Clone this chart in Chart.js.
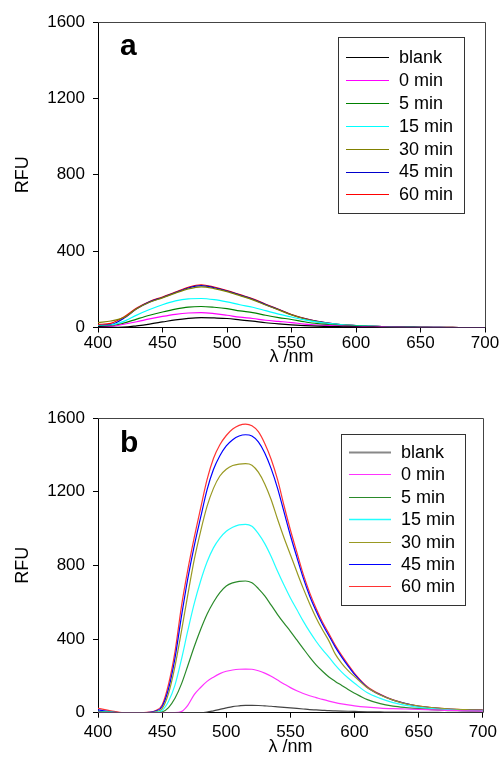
<!DOCTYPE html>
<html>
<head>
<meta charset="utf-8">
<script src="https://cdn.jsdelivr.net/npm/chart.js@4.4.1/dist/chart.umd.min.js"></script>
<style>
  html, body { margin: 0; padding: 0; background: #fff; }
  #wrap { position: relative; width: 501px; height: 768px; }
  canvas { position: absolute; left: 0; }
  #ca { top: 0; }
  #cb { top: 384px; }
</style>
</head>
<body>
<div id="wrap">
  <canvas id="ca" width="501" height="384"></canvas>
  <canvas id="cb" width="501" height="384"></canvas>
</div>
<script>
// ---------- DATA ----------
const seriesLabels = ["blank", "0 min", "5 min", "15 min", "30 min", "45 min", "60 min"];
const xTicks = [400, 450, 500, 550, 600, 650, 700];
const yTicks = [0, 400, 800, 1200, 1600];

// Panel a (wavelength, nm)
const wavelengthsA = [400,410,420,430,440,450,460,470,480,490,500,510,520,530,540,550,560,570,580,590,600,610,620,630,640,650,660,670,680,690,700];
const blankA  = [5,1,2,9,18,29,40,48,52,50,47,40,33,25,19,14,10,7,5,4,3,2,1,1,1,0,0,0,0,0,0];
const min0A   = [5,6,17,30,45,58,69,76,78,73,64,54,47,38,32,26,18,13,10,7,5,4,3,2,1,1,1,0,0,0,0];
const min5A   = [6,8,23,44,64,81,96,107,110,106,99,87,78,64,52,42,30,20,14,10,7,5,3,2,1,1,1,0,0,0,0];
const min15A  = [8,12,32,65,94,119,139,150,152,146,134,119,106,88,70,55,40,28,20,14,10,7,5,3,2,1,1,0,0,0,0];
const min30A  = [26,34,52,98,132,155,180,202,213,204,188,167,145,118,92,66,46,31,21,14,10,7,5,3,2,2,1,1,0,0,0];
const min45A  = [10,15,48,98,134,157,183,207,219,208,191,170,148,120,94,67,47,32,22,14,10,7,5,3,2,2,1,1,0,0,0];
const min60A  = [16,22,55,102,136,160,186,211,224,212,194,172,150,122,95,68,48,32,22,14,10,7,5,3,2,2,1,1,0,0,0];

// Panel b (wavelength, nm)
const wavelengthsB = [400,410,420,430,440,445,450,455,460,465,470,475,480,485,490,495,500,505,510,515,520,525,530,535,540,545,550,555,560,565,570,575,580,585,590,595,600,610,620,630,640,650,660,670,680,690,700];
const blankB  = [2,0,0,0,0,0,0,0,0,0,0,0,0,3,10,18,26,33,37,40,40,39,37,35,32,29,26,23,20,17,15,13,11,10,9,8,7,5,4,3,3,2,2,1,1,1,1];
const min0B   = [2,0,0,0,0,0,0,0,0,6,40,98,137,170,193,212,225,232,236,237,236,228,215,198,177,156,136,119,104,92,82,72,63,55,48,42,37,30,25,22,20,18,15,13,11,10,9];
const min5B   = [4,2,0,0,0,0,4,28,78,155,255,358,452,535,600,652,688,705,713,715,705,674,634,584,533,486,442,395,348,302,260,225,194,170,148,126,106,71,49,36,28,22,17,13,11,9,8];
const min15B  = [8,3,0,0,0,2,12,62,150,288,445,592,715,818,895,948,985,1007,1020,1023,1012,972,918,848,768,693,623,560,497,440,388,342,302,258,220,188,160,108,78,55,40,29,22,17,13,11,10];
const min30B  = [5,2,0,0,1,5,22,105,252,440,640,830,985,1120,1218,1285,1322,1342,1350,1352,1344,1306,1242,1156,1050,950,858,765,675,592,516,450,390,318,268,228,196,135,96,68,48,36,28,22,18,16,14];
const min45B  = [15,5,0,0,2,9,34,130,295,520,728,905,1060,1210,1320,1395,1448,1482,1502,1509,1502,1470,1410,1325,1218,1090,962,845,732,634,552,480,418,356,302,253,208,137,97,68,49,35,27,21,17,15,14];
const min60B  = [24,10,0,0,3,12,42,155,330,575,775,950,1110,1265,1380,1455,1505,1540,1560,1567,1558,1526,1462,1376,1265,1125,992,872,752,652,567,492,430,366,311,261,214,141,100,70,50,36,28,22,18,16,15];

// ---------- STYLE ----------
const colorsA = ["#000000", "#ff00ff", "#008000", "#00ffff", "#808000", "#0000cc", "#ff0000"];
const colorsB = ["#444444", "#ff33ff", "#2a8a2a", "#22ffff", "#999922", "#0000ff", "#ff3333"];
const legendColorsB = ["#888888", "#ff33ff", "#2a8a2a", "#22ffff", "#999922", "#0000ff", "#ff3333"];
const FONT = '"Liberation Sans", Arial, Helvetica, sans-serif';

function pts(xs, ys) { return xs.map((x, i) => ({ x: x, y: ys[i] })); }

function makeDatasets(xs, list, colors) {
  return list.map((ys, i) => ({
    label: seriesLabels[i],
    data: pts(xs, ys),
    borderColor: colors[i],
    backgroundColor: colors[i],
    borderWidth: 1.2,
    pointRadius: 0,
    fill: false,
    cubicInterpolationMode: 'monotone'
  }));
}

const overlay = {
  id: 'overlay',
  afterDraw(chart, args, o) {
    const ctx = chart.ctx;
    const a = chart.chartArea;
    ctx.save();
    // top / right frame
    ctx.strokeStyle = '#444';
    ctx.lineWidth = 1;
    ctx.beginPath();
    ctx.moveTo(a.left, Math.round(a.top) + 0.5);
    ctx.lineTo(Math.round(a.right) + 0.5, Math.round(a.top) + 0.5);
    ctx.lineTo(Math.round(a.right) + 0.5, a.bottom);
    ctx.stroke();
    // panel letter
    ctx.fillStyle = '#000';
    ctx.font = 'bold 30px ' + FONT;
    ctx.textBaseline = 'alphabetic';
    ctx.textAlign = 'left';
    ctx.fillText(o.letter, a.left + o.letterDx, a.top + o.letterDy);
    // legend box
    const bx = o.box[0], by = a.top + o.box[1], bw = o.box[2], bh = o.box[3];
    ctx.fillStyle = '#fff';
    ctx.fillRect(bx, by, bw, bh);
    ctx.strokeStyle = '#333';
    ctx.strokeRect(bx + 0.5, by + 0.5, bw, bh);
    ctx.font = '18px ' + FONT;
    ctx.textBaseline = 'middle';
    chart.data.datasets.forEach((ds, i) => {
      const y = by + o.firstDy + i * o.step;
      ctx.strokeStyle = o.legendColors[i];
      ctx.lineWidth = o.legendWidths[i];
      ctx.beginPath();
      ctx.moveTo(o.lineX[0], Math.round(y) + 0.5);
      ctx.lineTo(o.lineX[1], Math.round(y) + 0.5);
      ctx.stroke();
      ctx.fillStyle = '#000';
      ctx.fillText(ds.label, o.textX, y + 1);
    });
    ctx.restore();
  }
};

function makeChart(id, xs, list, colors, opts) {
  return new Chart(document.getElementById(id), {
    type: 'line',
    data: { datasets: makeDatasets(xs, list, colors) },
    plugins: [overlay],
    options: {
      responsive: false,
      animation: false,
      devicePixelRatio: 1,
      layout: { padding: { left: 0, right: 16, top: opts.top, bottom: opts.bottom } },
      plugins: {
        legend: { display: false },
        tooltip: { enabled: false },
        overlay: opts.overlay
      },
      scales: {
        x: {
          type: 'linear', min: 400, max: 700,
          afterBuildTicks: s => { s.ticks = xTicks.map(v => ({ value: v })); },
          afterFit: s => { s.height = opts.xHeight; },
          ticks: { color: '#000', font: { family: FONT, size: 17 }, padding: opts.xTickPad, maxRotation: 0, callback: v => String(v) },
          grid: { drawOnChartArea: false, drawTicks: true, tickLength: 5, color: '#000' },
          border: { display: true, color: '#000', width: 1 },
          title: { display: true, text: 'λ /nm', color: '#000', font: { family: FONT, size: 18 }, padding: { top: 0, bottom: 2 } }
        },
        y: {
          type: 'linear', min: 0, max: 1600,
          afterBuildTicks: s => { s.ticks = yTicks.map(v => ({ value: v })); },
          afterFit: s => { s.width = 98; },
          ticks: { color: '#000', font: { family: FONT, size: 17 }, padding: 8, callback: v => String(v) },
          grid: { drawOnChartArea: false, drawTicks: true, tickLength: 5, color: '#000' },
          border: { display: true, color: '#000', width: 1 },
          title: { display: true, text: 'RFU', color: '#000', font: { family: FONT, size: 18 }, padding: { top: 12, bottom: 0 } }
        }
      }
    }
  });
}

makeChart('ca', wavelengthsA, [blankA, min0A, min5A, min15A, min30A, min45A, min60A], colorsA, {
  top: 22, bottom: 14, xHeight: 42.5, xTickPad: 1,
  overlay: {
    letter: 'a', letterDx: 22, letterDy: 33,
    box: [338, 15, 126, 176], firstDy: 20, step: 22.9,
    lineX: [346, 389], textX: 399,
    legendColors: colorsA, legendWidths: [1, 1, 1, 1, 1, 1, 1]
  }
});

makeChart('cb', wavelengthsB, [blankB, min0B, min5B, min15B, min30B, min45B, min60B], colorsB, {
  top: 34, bottom: 8, xHeight: 47.3, xTickPad: 4,
  overlay: {
    letter: 'b', letterDx: 22, letterDy: 34,
    box: [341, 16, 124, 171], firstDy: 18, step: 22.4,
    lineX: [349, 391], textX: 401,
    legendColors: legendColorsB, legendWidths: [2, 1, 1, 1.5, 1, 1, 1]
  }
});
</script>
</body>
</html>
